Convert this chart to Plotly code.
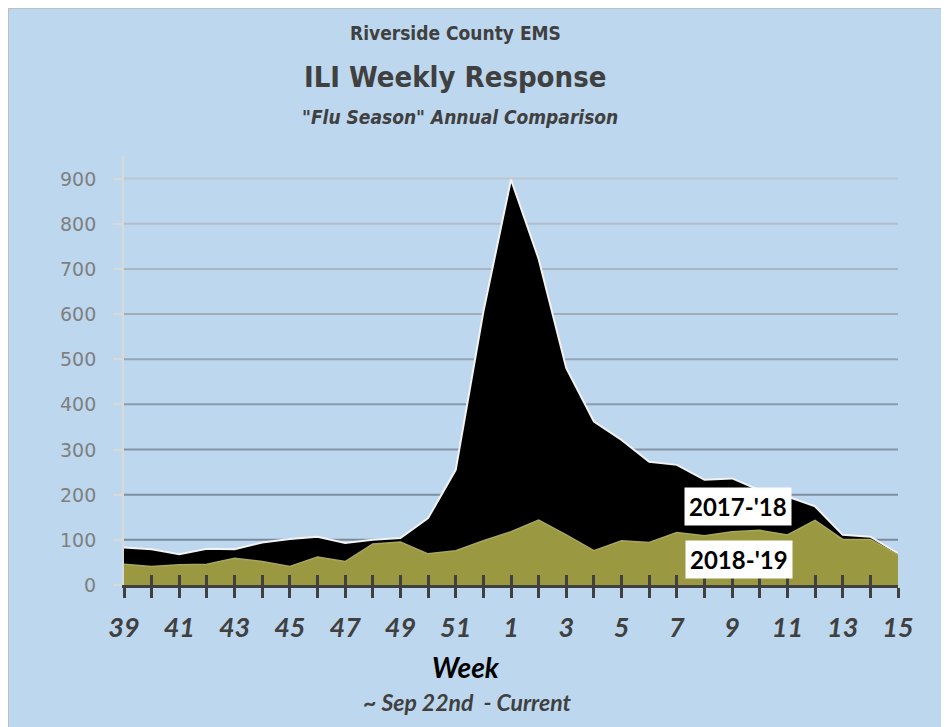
import plotly.graph_objects as go

# ---- data ----
weeks = [39, 40, 41, 42, 43, 44, 45, 46, 47, 48, 49, 50, 51, 52,
         1, 2, 3, 4, 5, 6, 7, 8, 9, 10, 11, 12, 13, 14, 15]
season_2017_18 = [83, 79, 68, 80, 79, 94, 102, 107, 93, 100, 104, 148, 255, 605,
                  898, 722, 480, 362, 321, 273, 266, 233, 236, 210, 196, 174, 111, 107, 70]
season_2018_19 = [46, 41, 45, 46, 59, 52, 41, 62, 52, 91, 95, 69, 76, 98,
                  118, 144, 111, 76, 98, 94, 116, 109, 118, 121, 111, 143, 101, 101, 67]
y_ticks = [0, 100, 200, 300, 400, 500, 600, 700, 800, 900]
series_names = ["2017-'18", "2018-'19"]

x_idx = list(range(len(weeks)))
tick_text = [str(w) if i % 2 == 0 else "" for i, w in enumerate(weeks)]

# ---- layout constants (page has an 8px body margin) ----
OFF = 8
W, H = 941, 719
L, R, T, B = 116, 51, 148, 142
PW, PH = W - L - R, H - T - B
BG = "#BDD7EE"


def px(page_x):
    return (page_x - OFF - L) / PW


def py(page_y):
    return (H - B - (page_y - OFF)) / PH


fig = go.Figure()
fig.add_trace(go.Scatter(
    x=x_idx, y=season_2017_18, mode="lines", fill="tozeroy",
    fillcolor="#000000", line=dict(color="#F2F2F2", width=2),
    name=series_names[0], showlegend=False))
fig.add_trace(go.Scatter(
    x=x_idx, y=season_2018_19, mode="lines", fill="tozeroy",
    fillcolor="#9A9841", line=dict(color="#A9A75C", width=1.5),
    name=series_names[1], showlegend=False))
# invisible helper trace so the overlay axis (inner ticks) is drawn
fig.add_trace(go.Scatter(
    x=x_idx, y=season_2018_19, mode="lines", xaxis="x2",
    line=dict(width=0), opacity=0, hoverinfo="skip", showlegend=False))

grid_colors = ["#7A8A9C", "#7E8FA1", "#8595A7", "#8C9CAD", "#96A5B5",
               "#A0AEBC", "#AAB6C3", "#B3BECA", "#BDC5CF"]
shapes = [dict(type="rect", xref="paper", yref="paper",
               x0=px(OFF), x1=px(W + 40), y0=py(H + 40), y1=py(OFF),
               fillcolor=BG, line=dict(color="#BFBFBF", width=2), layer="below")]
for v, c in zip(y_ticks[1:], grid_colors):
    shapes.append(dict(type="line", xref="x", yref="y", x0=0, x1=len(weeks) - 1,
                       y0=v, y1=v, line=dict(color=c, width=2), layer="below"))

title_font = "DejaVu Sans Condensed, DejaVu Sans"
annotations = [
    dict(text="Riverside County EMS", x=px(455), y=py(33),
         font=dict(family=title_font, size=19, color="#404040", weight="bold")),
    dict(text="ILI Weekly Response", x=px(455), y=py(77),
         font=dict(family=title_font, size=29, color="#404040", weight="bold")),
    dict(text="\"Flu Season\" Annual Comparison", x=px(460), y=py(117),
         font=dict(family=title_font, size=19, color="#404040", weight="bold",
                   style="italic")),
    dict(text="Week", x=px(466), y=py(667),
         font=dict(family="Lato", size=28, color="#000000", weight="bold", style="italic")),
    dict(text="~ Sep 22nd  - Current", x=px(467), y=py(702),
         font=dict(family="Lato", size=23, color="#404040", weight="bold", style="italic")),
]
for a in annotations:
    a.update(xref="paper", yref="paper", xanchor="center", yanchor="middle",
             showarrow=False)

# y-axis value labels, placed left of the axis like the reference
for v in y_ticks:
    annotations.append(dict(text=str(v), x=px(98), xref="paper", y=v, yref="y",
                            xanchor="right", yanchor="middle", showarrow=False,
                            font=dict(family="DejaVu Sans", size=19, color="#7F7F7F")))

annotations.append(dict(text=series_names[0], x=22.2, y=173, xref="x", yref="y",
                        showarrow=False, bgcolor="#FFFFFF", borderpad=4,
                        font=dict(family="Lato", size=24, color="#000000", weight="bold")))
annotations.append(dict(text=series_names[1], x=22.25, y=56, xref="x", yref="y",
                        showarrow=False, bgcolor="#FFFFFF", borderpad=4,
                        font=dict(family="Lato", size=24, color="#000000", weight="bold")))

fig.update_layout(
    width=W, height=H,
    margin=dict(l=L, r=R, t=T, b=B, pad=0),
    paper_bgcolor="#FFFFFF",
    plot_bgcolor="rgba(0,0,0,0)",
    shapes=shapes,
    annotations=annotations,
    xaxis=dict(range=[0, len(weeks) - 1], tickmode="array", tickvals=x_idx,
               ticktext=tick_text, ticks="outside", ticklen=10, tickwidth=3,
               tickcolor="#404040", showline=True, linecolor="#404040", linewidth=3,
               showgrid=False, zeroline=False, ticklabelstandoff=7,
               tickfont=dict(family="Lato", size=27, color="#404040",
                             weight="bold", style="italic")),
    xaxis2=dict(overlaying="x", anchor="y", side="bottom",
                range=[0, len(weeks) - 1], tickmode="linear", tick0=0, dtick=1,
                ticks="inside", ticklen=10, tickwidth=3, tickcolor="#404040",
                showticklabels=False, showgrid=False, showline=False, zeroline=False),
    yaxis=dict(range=[0, 950], tickmode="array", tickvals=y_ticks,
               ticks="outside", ticklen=9, tickwidth=2, tickcolor="#D9D9D9",
               showline=True, linecolor="#D9D9D9", linewidth=2,
               showgrid=False, zeroline=False, showticklabels=False),
    showlegend=False,
)

fig.write_html("out.html")
